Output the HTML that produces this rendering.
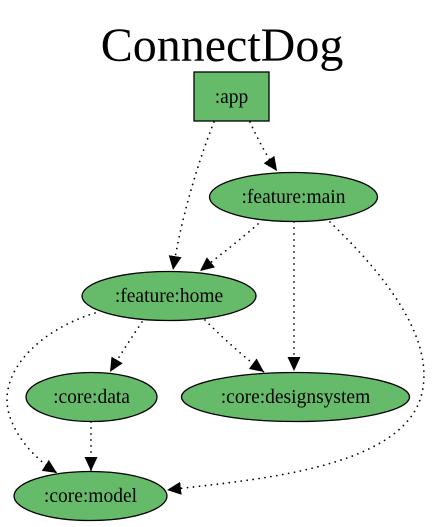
<!DOCTYPE html>
<html><head><meta charset="utf-8"><style>
html,body{margin:0;padding:0;background:#fff;}
svg{display:block;}
.t{font-family:"Liberation Serif","DejaVu Serif",serif;}
</style></head><body>
<svg width="443" height="527" viewBox="0 0 443 527" xmlns="http://www.w3.org/2000/svg">
<defs>
<marker id="a" markerWidth="15" markerHeight="13" refX="14" refY="6.5" orient="auto" markerUnits="userSpaceOnUse">
<path d="M0,0 L14,6.5 L0,13 Z" fill="#000"/>
</marker>
</defs>
<text class="t" x="222" y="61" font-size="48" text-anchor="middle">ConnectDog</text>
<g fill="none" stroke="#000" stroke-width="1.8" stroke-dasharray="0,6" stroke-linecap="round" marker-end="url(#a)">
<path d="M214,122 C195,170 180,225 173,270"/>
<path d="M250,122 C258,140 268,158 277,171"/>
<path d="M258,224 C240,240 220,255 200,271"/>
<path d="M294,222 L294,371"/>
<path d="M330,222 C380,270 440,340 420,400 C395,470 250,480 167,490"/>
<path d="M142,322 C130,340 120,355 110,372"/>
<path d="M205,320 C225,340 245,358 264,372"/>
<path d="M95,313 C40,330 0,370 8,410 C15,440 40,462 57,473"/>
<path d="M91,422 L91,471"/>
</g>
<g fill="#66bb6a" stroke="#000" stroke-width="1.3">
<rect x="194" y="72" width="75" height="49"/>
<ellipse cx="293.5" cy="197" rx="84" ry="24.5"/>
<ellipse cx="169" cy="296" rx="87" ry="24.5"/>
<ellipse cx="91.5" cy="397" rx="65.5" ry="24.5"/>
<ellipse cx="295.5" cy="397" rx="114" ry="24.5"/>
<ellipse cx="90.5" cy="496" rx="76.5" ry="24.5"/>
</g>
<g class="t" font-size="19.5" text-anchor="middle" fill="#000">
<text x="231.5" y="103">:app</text>
<text x="293.5" y="203">:feature:main</text>
<text x="169" y="302">:feature:home</text>
<text x="91.5" y="403">:core:data</text>
<text x="295.5" y="403">:core:designsystem</text>
<text x="90.5" y="502">:core:model</text>
</g>
</svg>
</body></html>
